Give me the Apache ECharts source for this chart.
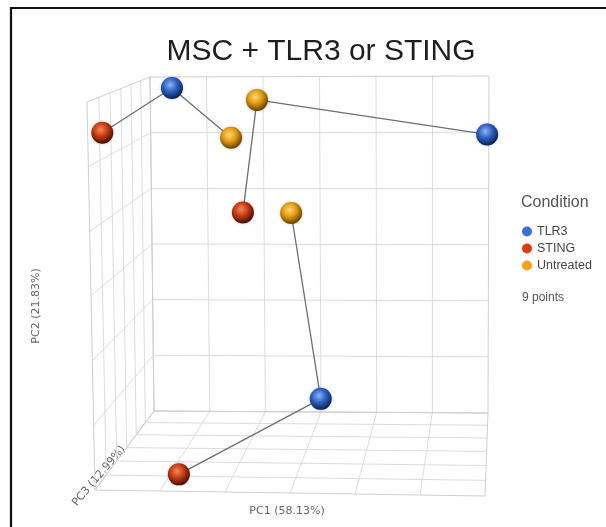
<!DOCTYPE html>
<html>
<head>
<meta charset="utf-8">
<script src="https://cdn.jsdelivr.net/npm/echarts@6/dist/echarts.min.js"></script>
<style>html,body{margin:0;padding:0;background:#fff}#c{width:606px;height:527px}</style>
</head>
<body>
<div id="c"></div>
<script>
// ---- data ----
const conditions = ['TLR3', 'STING', 'Untreated'];
const sampleCondition = ['STING','TLR3','Untreated','Untreated','TLR3','STING','Untreated','TLR3','STING'];
const pc1 = [-56.6, -50.2, -24.8, -17.5, 59.4, -19.7, -2.6, 3.2, -35.6];
const pc2 = [25.0, 28.5, 21.5, 27.4, 19.6, 9.7, 10.4, -23.6, -28.6];
const pc3 = [-27.0, 23.2, 3.8, 10.1, 30.0, -2.2, -8.1, 10.1, -24.8];
const links = [[0,1],[1,2],[3,4],[3,5],[6,7],[7,8]];
const axisNames = ['PC1 (58.13%)', 'PC2 (21.83%)', 'PC3 (12.99%)'];
const pc1Range = [-60, 60], pc2Range = [-30, 30], pc3Range = [-30, 30];
const gridDivisions = 6;

// ---- 3D box projection (layout) ----
const FRONT = {bl:[95,490], br:[485,496], tl:[87,102], tr:[479,106]};
const BACK  = {bl:[154,411], br:[488,413], tl:[150,77], tr:[489,76]};
const PERSP = 0.16;
function lerp(a,b,t){return [a[0]+(b[0]-a[0])*t, a[1]+(b[1]-a[1])*t];}
function bil(F,u,v){return lerp(lerp(F.bl,F.br,u), lerp(F.tl,F.tr,u), v);}
function projectUVW(u,v,w){
  const z = 1 + PERSP*w;
  const t = (1 - 1/z) / (1 - 1/(1+PERSP));
  return lerp(bil(FRONT,u,v), bil(BACK,u,v), t);
}
function frac(val, r){return (val - r[0])/(r[1]-r[0]);}
function project(a,b,c){return projectUVW(frac(a,pc1Range), frac(b,pc2Range), frac(c,pc3Range));}

// grid segments
const gridSegs = [];
for (let k=0;k<=gridDivisions;k++){
  const a = k/gridDivisions;
  const add=(p,q,edge)=>gridSegs.push({value:[p[0],p[1],q[0],q[1]], edge});
  const e = (k===0||k===gridDivisions);
  add(projectUVW(a,0,1), projectUVW(a,1,1), e);
  add(projectUVW(0,a,1), projectUVW(1,a,1), e);
  add(projectUVW(0,0,a), projectUVW(0,1,a), e);
  add(projectUVW(0,a,0), projectUVW(0,a,1), e);
  add(projectUVW(a,0,0), projectUVW(a,0,1), e);
  add(projectUVW(0,0,a), projectUVW(1,0,a), e);
}

const pts = pc1.map((v,i)=>project(pc1[i],pc2[i],pc3[i]));
const linkSegs = links.map(([i,j])=>[pts[i][0],pts[i][1],pts[j][0],pts[j][1]]);

const sphere = {
  'TLR3':      ['#8fb4f2','#2f62c4','#0c2558'],
  'STING':     ['#f5895a','#c63b14','#4e1004'],
  'Untreated': ['#ffd86e','#e29c14','#6e4600']
};
const flat = {'TLR3':'#3a6fd8','STING':'#de3b12','Untreated':'#f7a21c'};

const segRender = (style)=> function(params, api){
  const p1 = api.coord([api.value(0), api.value(1)]);
  const p2 = api.coord([api.value(2), api.value(3)]);
  return {type:'line', shape:{x1:p1[0],y1:p1[1],x2:p2[0],y2:p2[1]}, style: typeof style==='function'?style(params):style};
};

const chart = echarts.init(document.getElementById('c'));
chart.setOption({
  animation:false,
  backgroundColor:'#fff',
  title:{text:'MSC + TLR3 or STING', left:316, top:47, textAlign:'center', textVerticalAlign:'middle',
    textStyle:{fontFamily:'Liberation Sans', fontSize:30, fontWeight:'normal', color:'#1e1e1e'}},
  grid:{left:0,right:0,top:0,bottom:0},
  xAxis:{type:'value', min:0, max:606, show:false},
  yAxis:{type:'value', min:0, max:527, inverse:true, show:false},
  legend:{orient:'vertical', left:517, top:220, itemWidth:10, itemHeight:10, itemGap:4, icon:'circle',
    textStyle:{fontFamily:'Liberation Sans', fontSize:12.5, color:'#444'},
    data: conditions.map(c=>({name:c, itemStyle:{color:flat[c]}}))},
  graphic:[
    {type:'rect', shape:{x:11,y:8,width:800,height:800}, style:{fill:'none', stroke:'#111', lineWidth:2.2}, silent:true},
    {type:'text', x:521, y:203, style:{text:'Condition', fontFamily:'Liberation Sans', fontSize:16, fill:'#555', verticalAlign:'middle'}},
    {type:'text', x:522, y:298, style:{text: pc1.length + ' points', fontFamily:'Liberation Sans', fontSize:12, fill:'#555', verticalAlign:'middle'}},
    {type:'text', x:287, y:511, style:{text:axisNames[0], fontFamily:'DejaVu Sans', fontSize:11, fill:'#666', align:'center', verticalAlign:'middle'}},
    {type:'text', x:36, y:306, rotation:Math.PI/2, style:{text:axisNames[1], fontFamily:'DejaVu Sans', fontSize:11, fill:'#666', align:'center', verticalAlign:'middle'}},
    {type:'text', x:99, y:476, rotation:49.5*Math.PI/180, style:{text:axisNames[2], fontFamily:'DejaVu Sans', fontSize:11, fill:'#666', align:'center', verticalAlign:'middle'}}
  ],
  series:[
    {type:'custom', silent:true, z:1, clip:false, data:gridSegs.map(s=>s.value),
      renderItem: segRender(p=>({stroke: gridSegs[p.dataIndex].edge ? '#cfcfcf' : '#dcdcdc', lineWidth:1}))},
    {type:'custom', silent:true, z:2, clip:false, data:linkSegs,
      renderItem: segRender({stroke:'#6e6e6e', lineWidth:1.3})},
    ...conditions.map(c=>({
      name:c, type:'scatter', z:3, symbolSize:22,
      data: pts.filter((p,i)=>sampleCondition[i]===c),
      itemStyle:{color:{type:'radial', x:0.42, y:0.36, r:0.62,
        colorStops:[{offset:0,color:sphere[c][0]},{offset:0.5,color:sphere[c][1]},{offset:1,color:sphere[c][2]}]},
        shadowBlur:3, shadowColor:'rgba(0,0,0,0.25)', opacity:1}
    }))
  ]
});
</script>
</body>
</html>
